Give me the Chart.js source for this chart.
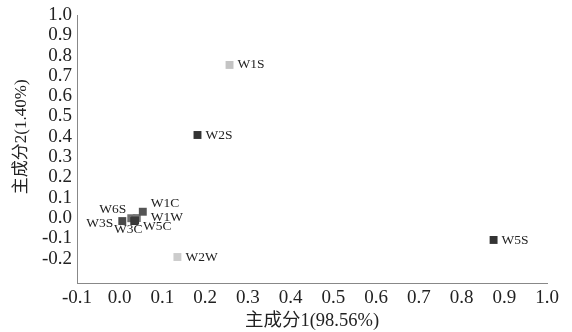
<!DOCTYPE html>
<html>
<head>
<meta charset="utf-8">
<script src="https://cdn.jsdelivr.net/npm/chart.js@4"></script>
<style>
  html, body { margin: 0; padding: 0; background: #fff; }
  #chart { display: block; }
</style>
</head>
<body>
<canvas id="chart" width="572" height="332"></canvas>
<script>
const names = ['W3S', 'W6S', 'W1W', 'W3C', 'W5C', 'W1C', 'W2W', 'W2S', 'W1S', 'W5S'];
const pc1 = [0.006, 0.027, 0.040, 0.034, 0.036, 0.054, 0.135, 0.182, 0.257, 0.875];
const pc2 = [-0.015, -0.001, 0.000, -0.015, -0.012, 0.031, -0.192, 0.409, 0.754, -0.108];
const xTicks = [-0.1, 0.0, 0.1, 0.2, 0.3, 0.4, 0.5, 0.6, 0.7, 0.8, 0.9, 1.0];
const yTicks = [-0.2, -0.1, 0.0, 0.1, 0.2, 0.3, 0.4, 0.5, 0.6, 0.7, 0.8, 0.9, 1.0];
const xTitle = '主成分1(98.56%)';
const yTitle = '主成分2(1.40%)';

// marker shades
const colors = ['#4a4a4a', '#6e6e6e', '#777777', '#333333', '#3a3a3a', '#555555',
  '#cccccc', '#333333', '#c4c4c4', '#333333'];

// where each name sits relative to its marker
const labelPos = {
  W3S: { dx: -9, dy: 2, align: 'right' },
  W6S: { dx: -5, dy: -9, align: 'right' },
  W1W: { dx: 14, dy: -1, align: 'left' },
  W3C: { dx: -6, dy: 8, align: 'center' },
  W5C: { dx: 8, dy: 6, align: 'left' },
  W1C: { dx: 8, dy: -8, align: 'left' },
  W2W: { dx: 8, dy: 0, align: 'left' },
  W2S: { dx: 8, dy: 0, align: 'left' },
  W1S: { dx: 8, dy: 0, align: 'left' },
  W5S: { dx: 8, dy: 0, align: 'left' }
};

const serif = '"Liberation Serif", "Times New Roman", "Noto Sans CJK SC", serif';

const pointLabels = {
  id: 'pointLabels',
  afterDatasetsDraw(chart) {
    const ctx = chart.ctx;
    const meta = chart.getDatasetMeta(0);
    ctx.save();
    ctx.font = '13.5px ' + serif;
    ctx.fillStyle = '#222';
    ctx.textBaseline = 'middle';
    meta.data.forEach((pt, i) => {
      const p = labelPos[names[i]];
      ctx.textAlign = p.align;
      ctx.fillText(names[i], pt.x + p.dx, pt.y + p.dy);
    });
    ctx.restore();
  }
};

// y title centred on the labelled tick range, not the whole axis
const yTitlePlugin = {
  id: 'yTitle',
  afterDraw(chart) {
    const y = chart.scales.y;
    const mid = (y.getPixelForValue(yTicks[0]) + y.getPixelForValue(yTicks[yTicks.length - 1])) / 2;
    const ctx = chart.ctx;
    ctx.save();
    ctx.translate(22, mid);
    ctx.rotate(-Math.PI / 2);
    ctx.font = '17px ' + serif;
    ctx.fillStyle = '#222';
    ctx.textAlign = 'center';
    ctx.textBaseline = 'middle';
    ctx.fillText(yTitle, 0, 0);
    ctx.restore();
  }
};

new Chart(document.getElementById('chart'), {
  type: 'scatter',
  data: {
    datasets: [{
      data: pc1.map((x, i) => ({ x, y: pc2[i] })),
      pointStyle: 'rect',
      pointRadius: 5.6,
      pointBackgroundColor: colors,
      pointBorderColor: colors,
      pointBorderWidth: 0
    }]
  },
  options: {
    responsive: false,
    animation: false,
    layout: { padding: { top: 15, right: 25, left: 0, bottom: 0 } },
    plugins: { legend: { display: false }, tooltip: { enabled: false } },
    scales: {
      x: {
        type: 'linear',
        min: -0.1,
        max: 1.0,
        afterBuildTicks: s => { s.ticks = xTicks.map(v => ({ value: v })); },
        afterFit: s => { s.height = 49; },
        grid: { display: false, drawTicks: true, tickLength: 4, color: '#888' },
        border: { color: '#888', width: 1 },
        ticks: {
          color: '#222',
          padding: 0,
          maxRotation: 0,
          autoSkip: false,
          font: { family: serif, size: 19 },
          callback: v => v.toFixed(1)
        },
        title: {
          display: true,
          text: xTitle,
          color: '#222',
          padding: { top: -3, bottom: 0 },
          font: { family: serif, size: 18.5 }
        }
      },
      y: {
        type: 'linear',
        min: -0.32,
        max: 1.0,
        afterBuildTicks: s => { s.ticks = yTicks.map(v => ({ value: v })); },
        afterFit: s => { s.width = 77; },
        grid: { display: false, drawTicks: true, tickLength: 4, color: '#888' },
        border: { color: '#888', width: 1 },
        ticks: {
          color: '#222',
          padding: 1,
          autoSkip: false,
          font: { family: serif, size: 19 },
          callback: v => v.toFixed(1)
        }
      }
    }
  },
  plugins: [pointLabels, yTitlePlugin]
});
</script>
</body>
</html>
